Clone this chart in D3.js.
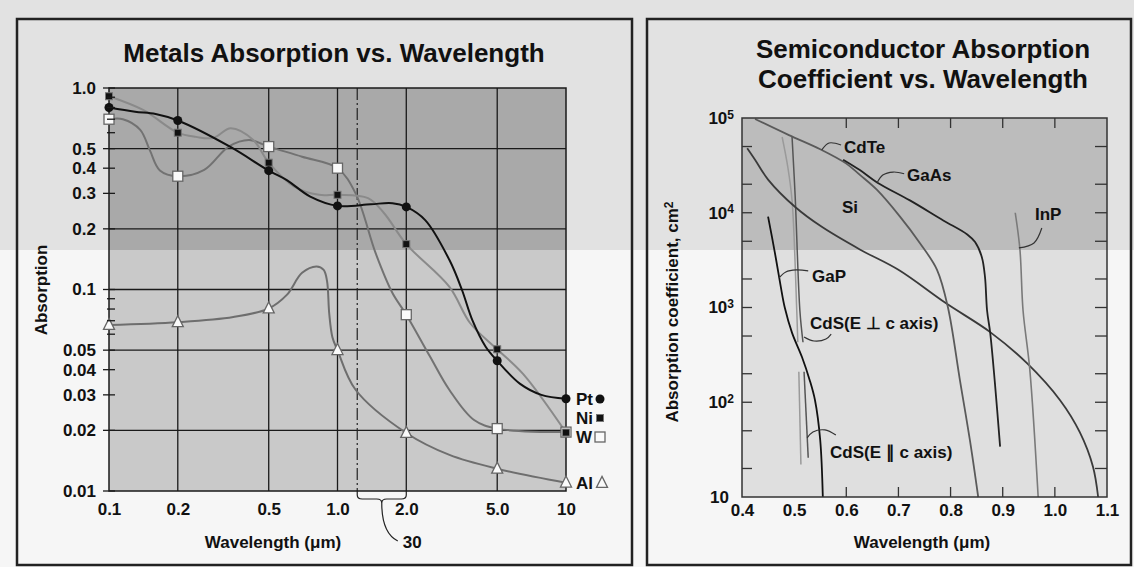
<!DOCTYPE html>
<html>
<head>
<meta charset="utf-8">
<script src="https://cdnjs.cloudflare.com/ajax/libs/d3/7.8.5/d3.min.js"></script>
<style>
    body { margin: 0; background: #f6f6f6; }
    svg { display: block; font-family: "Liberation Sans", Arial, Helvetica, sans-serif; }
</style>
</head>
<body>
<div id="chart"></div>
<script>
// DATA - metals panel (markers at the labelled wavelengths)
var metalWavelengths = [0.1, 0.2, 0.5, 1, 2, 5, 10];
var metalTickLabels = ["0.1", "0.2", "0.5", "1.0", "2.0", "5.0", "10"];
var absorptionTicks = [1, 0.5, 0.4, 0.3, 0.2, 0.1, 0.05, 0.04, 0.03, 0.02, 0.01];
var absorptionGrid = [0.5, 0.2, 0.1, 0.05, 0.02];
var absorptionMinor = [0.9, 0.8, 0.7, 0.6, 0.09, 0.08, 0.07, 0.06];
var metalNames = ["Pt", "Ni", "W", "Al"];

var ptValues = [0.80, 0.69, 0.389, 0.26, 0.257, 0.0443, 0.0287];
var niValues = [0.91, 0.60, 0.426, 0.295, 0.168, 0.0505, 0.0195];
var wValues = [0.70, 0.365, 0.512, 0.40, 0.075, 0.0204, 0.0196];
var alValues = [0.0667, 0.0688, 0.0805, 0.050, 0.0194, 0.0129, 0.0110];

// smooth curves traced through the markers, [wavelength, absorption]
var ptCurve = [[0.1, 0.80], [0.13, 0.763], [0.16, 0.743], [0.2, 0.69], [0.34, 0.51], [0.5, 0.389],
    [0.6, 0.349], [0.76, 0.289], [1, 0.26], [1.4, 0.265], [1.74, 0.268], [2, 0.257], [2.42, 0.221],
    [3.09, 0.14], [3.5, 0.10], [3.9, 0.07], [4.45, 0.052], [5, 0.0443], [6.3, 0.034], [7.8, 0.030], [10, 0.0287]];
var niCurve = [[0.1, 0.91], [0.141, 0.778], [0.2, 0.60], [0.24, 0.572], [0.286, 0.565], [0.341, 0.631],
    [0.428, 0.552], [0.5, 0.426], [0.646, 0.324], [0.83, 0.295], [1, 0.295], [1.36, 0.284], [1.6, 0.239],
    [2, 0.168], [3.09, 0.103], [3.81, 0.068], [5, 0.0505], [6.5, 0.038], [10, 0.0195]];
var wCurve = [[0.1, 0.70], [0.115, 0.70], [0.137, 0.62], [0.151, 0.49], [0.167, 0.39], [0.2, 0.365],
    [0.261, 0.392], [0.334, 0.512], [0.41, 0.552], [0.5, 0.512], [0.7, 0.456], [1, 0.40], [1.2, 0.30],
    [1.47, 0.151], [1.74, 0.096], [2, 0.075], [2.54, 0.0465], [3.09, 0.0317], [3.96, 0.0225], [5, 0.0204], [10, 0.0196]];
var alCurve = [[0.1, 0.0667], [0.2, 0.0688], [0.35, 0.073], [0.5, 0.0805], [0.6, 0.094], [0.7, 0.121],
    [0.81, 0.130], [0.87, 0.125], [0.9, 0.11], [0.92, 0.076], [0.95, 0.058], [1, 0.050], [1.2, 0.0318],
    [2, 0.0194], [3.09, 0.0151], [5, 0.0129], [10, 0.0110]];

var breakWavelengths = [1.22, 2];
var breakLabel = "30";

// DATA - semiconductor panel, [wavelength um, absorption coefficient cm-1]
var waveTicks = [0.4, 0.5, 0.6, 0.7, 0.8, 0.9, 1.0, 1.1];
var waveInnerTicks = [0.6, 0.7, 0.8, 0.9, 1.0];
var coefTicks = [10, 100, 1000, 1e4, 1e5];
var coefMinor = [20, 50, 100, 200, 500, 1000, 2000, 5000, 1e4, 2e4, 5e4];

var cdteCurve = [[0.425, 97700], [0.49, 66000], [0.55, 46800], [0.60, 33000], [0.626, 25100], [0.659, 17400],
    [0.703, 9100], [0.741, 4800], [0.774, 2500], [0.795, 1000], [0.818, 170], [0.837, 40], [0.853, 10]];
var gaasCurve = [[0.594, 36300], [0.626, 28200], [0.659, 20900], [0.722, 13500], [0.786, 8300], [0.832, 5900],
    [0.847, 4900], [0.860, 3400], [0.866, 2100], [0.870, 930], [0.876, 540], [0.885, 160], [0.895, 34]];
var siCurve = [[0.41, 48000], [0.425, 36300], [0.45, 22400], [0.502, 11500], [0.553, 7100], [0.626, 4100],
    [0.70, 2500], [0.79, 1120], [0.876, 550], [0.947, 257], [1.01, 105], [1.048, 48], [1.073, 21], [1.083, 10]];
var inpCurve = [[0.924, 10000], [0.933, 4100], [0.939, 930], [0.952, 220], [0.968, 10]];
var gapCurve = [[0.45, 9100], [0.463, 3800], [0.474, 1700], [0.482, 1000], [0.496, 540], [0.515, 300],
    [0.530, 170], [0.540, 105], [0.550, 40], [0.555, 10]];
var cdsPerpLight = [[0.477, 63000], [0.488, 30000], [0.496, 13500], [0.505, 930], [0.507, 430]];
var cdsPerpDark = [[0.496, 63000], [0.502, 14800], [0.511, 930], [0.517, 430]];
var cdsParLight = [[0.509, 210], [0.513, 22]];
var cdsParDark = [[0.519, 210], [0.527, 26]];

// LAYOUT
var W = 1134, H = 567, bandY = 250;
var boldFont = "bold";

var svg = d3.select("#chart")
    .append("svg")
    .attr("width", W)
    .attr("height", H);

// scanner band: the top of the page is a little darker
svg.append("rect").attr("width", W).attr("height", H).attr("fill", "#f6f6f6");
svg.append("rect").attr("width", W).attr("height", bandY).attr("fill", "#e2e2e2");

function plotBackground(g, x0, y0, x1, y1, upper, lower) {
    g.append("rect")
        .attr("x", x0).attr("y", y0)
        .attr("width", x1 - x0).attr("height", y1 - y0)
        .attr("fill", lower);
    g.append("rect")
        .attr("x", x0).attr("y", y0)
        .attr("width", x1 - x0).attr("height", Math.max(0, bandY - y0))
        .attr("fill", upper);
}

function styleAxis(s) {
    s.select(".domain").remove();
    s.attr("font-family", null).attr("font-size", null);
    s.selectAll("text")
        .attr("font-size", 17)
        .attr("font-weight", boldFont)
        .attr("fill", "#111");
}

function addText(g, x, y, txt, size, anchor) {
    return g.append("text")
        .attr("x", x)
        .attr("y", y)
        .attr("font-size", size)
        .attr("font-weight", boldFont)
        .attr("text-anchor", anchor || "start")
        .attr("fill", "#111")
        .text(txt);
}

// frames round each panel
svg.append("rect")
    .attr("x", 17).attr("y", 19).attr("width", 615).attr("height", 546)
    .attr("fill", "none").attr("stroke", "#222").attr("stroke-width", 2.5);
svg.append("rect")
    .attr("x", 647).attr("y", 19).attr("width", 484).attr("height", 546)
    .attr("fill", "none").attr("stroke", "#222").attr("stroke-width", 2.5);

//// LEFT PANEL: metals
var gL = svg.append("g");
var xm = d3.scaleLog().domain([0.1, 10]).range([109, 566]);
var ym = d3.scaleLog().domain([0.01, 1]).range([491, 88]);
var lx0 = xm.range()[0], lx1 = xm.range()[1], ly0 = ym.range()[1], ly1 = ym.range()[0];

plotBackground(gL, lx0, ly0, lx1, ly1, "#a9a9a9", "#c9c9c9");

// grid
gL.selectAll("line.vgrid")
    .data(metalWavelengths.slice(1, -1))
    .enter()
    .append("line")
    .attr("x1", d => xm(d)).attr("x2", d => xm(d))
    .attr("y1", ly0).attr("y2", ly1)
    .attr("stroke", "#1a1a1a").attr("stroke-width", 1.3);
gL.selectAll("line.hgrid")
    .data(absorptionGrid)
    .enter()
    .append("line")
    .attr("x1", lx0).attr("x2", lx1)
    .attr("y1", d => ym(d)).attr("y2", d => ym(d))
    .attr("stroke", "#1a1a1a").attr("stroke-width", 1.3);

// dashed break line and the brace under it
var bx0 = xm(breakWavelengths[0]), bx1 = xm(breakWavelengths[1]), bm = (bx0 + bx1) / 2;
gL.append("line")
    .attr("x1", bx0).attr("x2", bx0)
    .attr("y1", ly0).attr("y2", ly1 + 4)
    .attr("stroke", "#222").attr("stroke-width", 1.2)
    .attr("stroke-dasharray", "12,3,2,3");
gL.append("line")
    .attr("x1", bx1).attr("x2", bx1)
    .attr("y1", ly1).attr("y2", ly1 + 4)
    .attr("stroke", "#222").attr("stroke-width", 1.2);
var by = ly1;
gL.append("path")
    .attr("d", "M" + bx0 + "," + (by + 4) +
        " Q" + bx0 + "," + (by + 8) + " " + (bx0 + 5) + "," + (by + 8) +
        " H" + (bm - 5) +
        " Q" + bm + "," + (by + 8) + " " + bm + "," + (by + 12) +
        " Q" + bm + "," + (by + 8) + " " + (bm + 5) + "," + (by + 8) +
        " H" + (bx1 - 5) +
        " Q" + bx1 + "," + (by + 8) + " " + bx1 + "," + (by + 4))
    .attr("fill", "none").attr("stroke", "#222").attr("stroke-width", 1.2);
gL.append("path")
    .attr("d", "M" + bm + "," + (by + 12) + " C" + bm + "," + (by + 30) + " " + (bm + 4) + "," + (by + 44) + " " + (bm + 16) + "," + (by + 50))
    .attr("fill", "none").attr("stroke", "#222").attr("stroke-width", 1.2);
addText(gL, bm + 21, by + 57, breakLabel, 17);

// curves
var metalLine = d3.line()
    .x(d => xm(d[0]))
    .y(d => ym(d[1]))
    .curve(d3.curveCatmullRom.alpha(0.5));

var metalSeries = [
    { curve: alCurve, colour: "#6e6e6e" },
    { curve: wCurve, colour: "#727272" },
    { curve: niCurve, colour: "#8a8a8a" },
    { curve: ptCurve, colour: "#111" }
];
metalSeries.forEach(s => {
    gL.append("path")
        .datum(s.curve)
        .attr("d", metalLine)
        .attr("fill", "none")
        .attr("stroke", s.colour)
        .attr("stroke-width", 2);
});

// plot border
gL.append("rect")
    .attr("x", lx0).attr("y", ly0).attr("width", lx1 - lx0).attr("height", ly1 - ly0)
    .attr("fill", "none").attr("stroke", "#1a1a1a").attr("stroke-width", 1.5);

// markers
function triangle(cx, cy, s) {
    return "M" + cx + "," + (cy - s * 0.6) + " L" + (cx + s / 2) + "," + (cy + s * 0.4) + " L" + (cx - s / 2) + "," + (cy + s * 0.4) + "Z";
}
function drawMarker(g, kind, cx, cy) {
    if (kind === "Pt") {
        g.append("circle").attr("cx", cx).attr("cy", cy).attr("r", 4.5).attr("fill", "#111");
    } else if (kind === "Ni") {
        g.append("rect").attr("x", cx - 3.5).attr("y", cy - 3.5).attr("width", 7).attr("height", 7)
            .attr("fill", "#111").attr("stroke", "#777").attr("stroke-width", 1);
    } else if (kind === "W") {
        g.append("rect").attr("x", cx - 5).attr("y", cy - 5).attr("width", 10).attr("height", 10)
            .attr("fill", "#fafafa").attr("stroke", "#666").attr("stroke-width", 1.3);
    } else {
        g.append("path").attr("d", triangle(cx, cy, 11))
            .attr("fill", "#fafafa").attr("stroke", "#666").attr("stroke-width", 1.3);
    }
}
var markerSets = [["Al", alValues], ["W", wValues], ["Ni", niValues], ["Pt", ptValues]];
markerSets.forEach(m => {
    m[1].forEach((v, i) => {
        drawMarker(gL, m[0], xm(metalWavelengths[i]), ym(v));
    });
});

// y axis: labels, major ticks across the axis, minor ticks inside
gL.append("g")
    .attr("transform", "translate(" + lx0 + ",0)")
    .call(d3.axisLeft(ym).tickValues(absorptionTicks)
        .tickFormat(d => d === 1 ? "1.0" : String(d))
        .tickSize(0).tickPadding(13))
    .call(styleAxis);
gL.selectAll("line.ytick")
    .data(absorptionTicks)
    .enter()
    .append("line")
    .attr("x1", lx0 - 6).attr("x2", lx0 + 6)
    .attr("y1", d => ym(d)).attr("y2", d => ym(d))
    .attr("stroke", "#1a1a1a").attr("stroke-width", 1.3);
gL.selectAll("line.yminor")
    .data(absorptionMinor)
    .enter()
    .append("line")
    .attr("x1", lx0 - 2).attr("x2", lx0 + 6)
    .attr("y1", d => ym(d)).attr("y2", d => ym(d))
    .attr("stroke", "#1a1a1a").attr("stroke-width", 1.3);

// x axis
gL.append("g")
    .attr("transform", "translate(0," + ly1 + ")")
    .call(d3.axisBottom(xm).tickValues(metalWavelengths)
        .tickFormat((d, i) => metalTickLabels[i])
        .tickSize(0).tickPadding(12))
    .call(styleAxis);

// legend at the right end of the curves
var legendY = [399, 418, 437, 483];
metalNames.forEach((n, i) => {
    addText(gL, 576, legendY[i] + 6, n, 17);
    drawMarker(gL, n, n === "Al" ? 602 : 600, legendY[i]);
});

// titles
addText(gL, 334, 62, "Metals Absorption vs. Wavelength", 26, "middle");
addText(gL, 273, 548, "Wavelength (\u03bcm)", 17, "middle");
addText(gL, 0, 0, "Absorption", 17, "middle")
    .attr("transform", "translate(47,290)rotate(-90)");

//// RIGHT PANEL: semiconductors
var gR = svg.append("g");
var xs = d3.scaleLinear().domain([0.4, 1.1]).range([742, 1107]);
var ys = d3.scaleLog().domain([10, 1e5]).range([497, 118]);
var rx0 = xs.range()[0], rx1 = xs.range()[1], ry0 = ys.range()[1], ry1 = ys.range()[0];

plotBackground(gR, rx0, ry0, rx1, ry1, "#bcbcbc", "#dfdfdf");

var semiLine = d3.line()
    .x(d => xs(d[0]))
    .y(d => ys(d[1]))
    .curve(d3.curveCatmullRom.alpha(0.5));

var semiSeries = [
    { curve: cdsPerpLight, colour: "#9a9a9a", w: 1.5 },
    { curve: cdsPerpDark, colour: "#555", w: 1.5 },
    { curve: cdsParLight, colour: "#9a9a9a", w: 1.5 },
    { curve: cdsParDark, colour: "#555", w: 1.5 },
    { curve: siCurve, colour: "#3a3a3a", w: 1.8 },
    { curve: cdteCurve, colour: "#5a5a5a", w: 1.8 },
    { curve: gaasCurve, colour: "#222", w: 1.8 },
    { curve: inpCurve, colour: "#7a7a7a", w: 1.6 },
    { curve: gapCurve, colour: "#111", w: 1.8 }
];
semiSeries.forEach(s => {
    gR.append("path")
        .datum(s.curve)
        .attr("d", semiLine)
        .attr("fill", "none")
        .attr("stroke", s.colour)
        .attr("stroke-width", s.w);
});

// curve labels with their little leaders (all placed in data units)
var semiLabels = [
    { text: "CdTe", at: [0.5956, 42700], lead: [[0.553, 46000], [0.567, 54500], [0.590, 51900]] },
    { text: "GaAs", at: [0.7164, 21600], lead: [[0.659, 20600], [0.670, 25000], [0.690, 26900], [0.711, 25800]] },
    { text: "Si", at: [0.5918, 9930], lead: [] },
    { text: "InP", at: [0.9619, 8380], lead: [[0.931, 4250], [0.960, 4800], [0.975, 6900]] },
    { text: "GaP", at: [0.5342, 1860], lead: [[0.471, 2050], [0.484, 2370], [0.504, 2490], [0.527, 2430]] },
    { text: "CdS(E \u22a5 c axis)", at: [0.5304, 593], lead: [[0.519, 489], [0.538, 443], [0.561, 465], [0.571, 525]] },
    { text: "CdS(E \u2225 c axis)", at: [0.5688, 25.8], lead: [[0.525, 42], [0.536, 48.5], [0.559, 51], [0.580, 45]] }
];
semiLabels.forEach(l => {
    if (l.lead.length) {
        gR.append("path")
            .datum(l.lead)
            .attr("d", semiLine)
            .attr("fill", "none")
            .attr("stroke", "#333")
            .attr("stroke-width", 1.2);
    }
    addText(gR, xs(l.at[0]), ys(l.at[1]), l.text, 17);
});

// plot border and inward ticks
gR.append("rect")
    .attr("x", rx0).attr("y", ry0).attr("width", rx1 - rx0).attr("height", ry1 - ry0)
    .attr("fill", "none").attr("stroke", "#333").attr("stroke-width", 1.5);
[[rx0, 10], [rx1, -12]].forEach(side => {
    gR.selectAll(null)
        .data(coefMinor)
        .enter()
        .append("line")
        .attr("x1", side[0]).attr("x2", side[0] + side[1])
        .attr("y1", d => ys(d)).attr("y2", d => ys(d))
        .attr("stroke", "#333").attr("stroke-width", 1.3);
});
[[ry0, 10], [ry1, -10]].forEach(side => {
    gR.selectAll(null)
        .data(waveInnerTicks)
        .enter()
        .append("line")
        .attr("x1", d => xs(d)).attr("x2", d => xs(d))
        .attr("y1", side[0]).attr("y2", side[0] + side[1])
        .attr("stroke", "#333").attr("stroke-width", 1.3);
});

// axes labels
gR.append("g")
    .attr("transform", "translate(" + rx0 + ",0)")
    .call(d3.axisLeft(ys).tickValues(coefTicks).tickFormat(() => "10").tickSize(0).tickPadding(8))
    .call(styleAxis)
    .call(s => s.selectAll(".tick text").each(function (d) {
        var e = Math.round(Math.log10(d));
        if (e > 1) {
            d3.select(this).append("tspan").attr("dy", "-0.45em").attr("font-size", 12).text(e);
        } else {
            d3.select(this).attr("dx", -5);
        }
    }));
gR.append("g")
    .attr("transform", "translate(0," + ry1 + ")")
    .call(d3.axisBottom(xs).tickValues(waveTicks).tickFormat(d3.format(".1f")).tickSize(0).tickPadding(7))
    .call(styleAxis);

addText(gR, 923, 58, "Semiconductor Absorption", 26, "middle");
addText(gR, 923, 88, "Coefficient vs. Wavelength", 26, "middle");
addText(gR, 922, 548, "Wavelength (\u03bcm)", 17, "middle");
var yTitle = addText(gR, 0, 0, "Absorption coefficient, cm", 17, "middle")
    .attr("transform", "translate(678,312)rotate(-90)");
yTitle.append("tspan").attr("dy", "-0.45em").attr("font-size", 12).text("2");
</script>
</body>
</html>
